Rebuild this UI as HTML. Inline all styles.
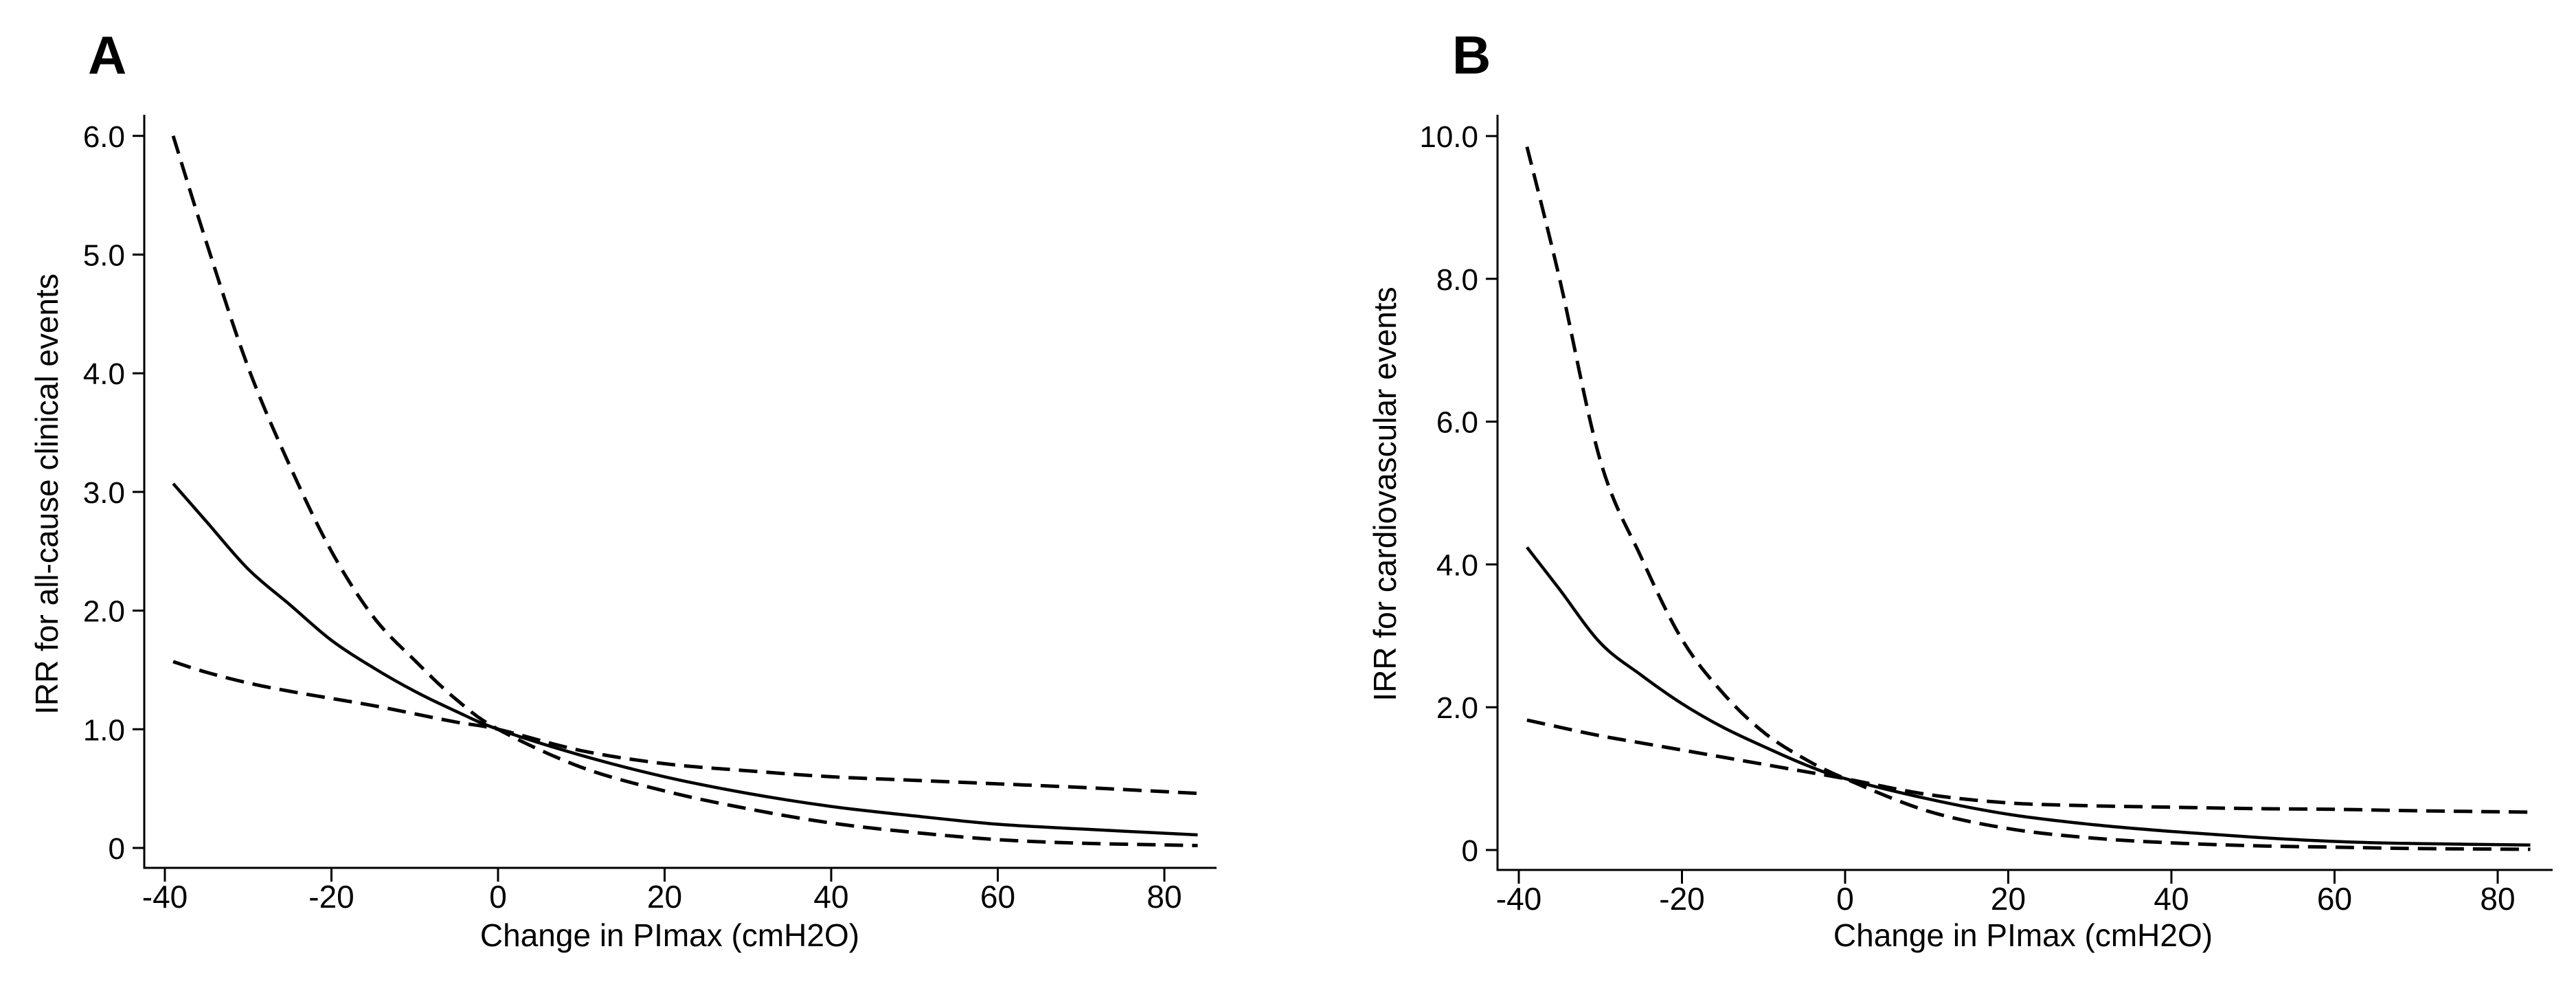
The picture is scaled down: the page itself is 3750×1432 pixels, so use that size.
<!DOCTYPE html>
<html><head><meta charset="utf-8"><style>
html,body{margin:0;padding:0;background:#fff;}
svg{display:block;font-family:"Liberation Sans",Arial,sans-serif;}
</style></head><body>
<svg id="chart" width="3750" height="1432" viewBox="0 0 3750 1432" xmlns="http://www.w3.org/2000/svg">
<rect width="3750" height="1432" fill="#fff"/>
</svg>
<script>
const xValues = [-39,-35,-30,-25,-20,-15,-10,-5,0,10,20,30,40,50,60,70,84];
const xTicks = [-40,-20,0,20,40,60,80];
const xTickLabels = ["-40","-20","0","20","40","60","80"];
const aUpper = [6.0,5.1,4.05,3.22,2.5,1.95,1.58,1.25,1.0,0.68,0.48,0.33,0.21,0.13,0.07,0.04,0.02];
const aEstimate = [3.07,2.75,2.35,2.05,1.75,1.52,1.32,1.15,1.0,0.78,0.6,0.46,0.35,0.27,0.2,0.16,0.11];
const aLower = [1.57,1.48,1.39,1.32,1.26,1.2,1.13,1.06,1.0,0.82,0.71,0.65,0.6,0.57,0.54,0.51,0.46];
const aYTicks = [0,1,2,3,4,5,6];
const aYTickLabels = ["0","1.0","2.0","3.0","4.0","5.0","6.0"];
const bUpper = [9.85,8.0,5.45,4.1,2.95,2.2,1.65,1.28,1.0,0.55,0.3,0.17,0.1,0.06,0.04,0.02,0.01];
const bEstimate = [4.24,3.65,2.9,2.45,2.05,1.72,1.45,1.2,1.0,0.72,0.5,0.36,0.26,0.18,0.12,0.09,0.07];
const bLower = [1.82,1.72,1.6,1.5,1.4,1.3,1.2,1.1,1.0,0.78,0.66,0.62,0.6,0.58,0.57,0.55,0.53];
const bYTicks = [0,2,4,6,8,10];
const bYTickLabels = ["0","2.0","4.0","6.0","8.0","10.0"];

const NS = "http://www.w3.org/2000/svg";
const svg = document.getElementById("chart");
function mk(tag, attrs, parent){
  const e = document.createElementNS(NS, tag);
  for (const k in attrs) e.setAttribute(k, attrs[k]);
  (parent||svg).appendChild(e);
  return e;
}
function smoothPath(pts){
  let d = "M" + pts[0][0].toFixed(1) + "," + pts[0][1].toFixed(1);
  for (let i=0;i<pts.length-1;i++){
    const p0 = pts[Math.max(0,i-1)], p1 = pts[i], p2 = pts[i+1], p3 = pts[Math.min(pts.length-1,i+2)];
    const c1x = p1[0] + (p2[0]-p0[0])/6, c1y = p1[1] + (p2[1]-p0[1])/6;
    const c2x = p2[0] - (p3[0]-p1[0])/6, c2y = p2[1] - (p3[1]-p1[1])/6;
    d += " C" + c1x.toFixed(1)+","+c1y.toFixed(1)+" "+c2x.toFixed(1)+","+c2y.toFixed(1)+" "+p2[0].toFixed(1)+","+p2[1].toFixed(1);
  }
  return d;
}
function panel(cfg){
  const g = mk("g", {});
  
  
  const xs = v => cfg.x0 + (v - (-40)) / 20 * cfg.xStep;
  const ys = v => cfg.y0 - v * cfg.yUnit;
  // panel letter
  const L = mk("text", {x: cfg.letterX, y: 107, "font-size": 78, "font-weight": "bold", fill: "#000"}, g);
  
  
  L.textContent = cfg.letter;
  // axes
  const ya = mk("line", {x1: cfg.axisX, y1: 167, x2: cfg.axisX, y2: cfg.axisY+1.5, stroke: "#000", "stroke-width": 3}, g);
  
  
  const xa = mk("line", {x1: cfg.axisX-1.5, y1: cfg.axisY, x2: cfg.axisEnd, y2: cfg.axisY, stroke: "#000", "stroke-width": 3}, g);
  
  
  xTicks.forEach((t,i)=>{
    const x = xs(t);
    const tk = mk("line", {x1: x, y1: cfg.axisY, x2: x, y2: cfg.axisY+20, stroke: "#000", "stroke-width": 3}, g);
    
    
    const tl = mk("text", {x: x, y: cfg.axisY+58, "font-size": 46, "text-anchor": "middle", fill: "#000"}, g);
    
    
    tl.textContent = xTickLabels[i];
  });
  cfg.yTicks.forEach((t,i)=>{
    const y = ys(t);
    const tk = mk("line", {x1: cfg.axisX-17, y1: y, x2: cfg.axisX, y2: y, stroke: "#000", "stroke-width": 3}, g);
    
    
    const tl = mk("text", {x: cfg.axisX-28, y: y+16, "font-size": 44, "text-anchor": "end", fill: "#000"}, g);
    
    
    tl.textContent = cfg.yTickLabels[i];
  });
  const xt = mk("text", {x: cfg.xTitleX, y: 1377, "font-size": 46, "text-anchor": "middle", fill: "#000"}, g);
  
  
  xt.textContent = "Change in PImax (cmH2O)";
  const yt = mk("text", {x: 0, y: 0, "font-size": 46, "text-anchor": "middle", fill: "#000",
    transform: "translate(" + cfg.yTitleX + ",719) rotate(-90)"}, g);
  
  
  yt.textContent = cfg.yTitle;
  const series = [[cfg.upper,"upper-ci-line",true],[cfg.lower,"lower-ci-line",true],[cfg.est,"irr-estimate-line",false]];
  series.forEach(s=>{
    const pts = xValues.map((xv,i)=>[xs(xv), ys(s[0][i])]);
    const p = mk("path", {d: smoothPath(pts), fill: "none", stroke: "#000", "stroke-width": s[2]?5:4.5,
      "stroke-dasharray": s[2] ? "27 13" : "none"}, g);
    
    
  });
}
panel({name:"panel-a", letter:"A", letterX:128, x0:240, xStep:242.5, y0:1234, yUnit:172.7,
  axisX:210, axisY:1263, axisEnd:1771, yTicks:aYTicks, yTickLabels:aYTickLabels,
  upper:aUpper, est:aEstimate, lower:aLower, xTitleX:975, yTitleX:84,
  yTitle:"IRR for all-cause clinical events"});
panel({name:"panel-b", letter:"B", letterX:2114, x0:2211, xStep:237.5, y0:1237, yUnit:103.9,
  axisX:2180, axisY:1266, axisEnd:3716, yTicks:bYTicks, yTickLabels:bYTickLabels,
  upper:bUpper, est:bEstimate, lower:bLower, xTitleX:2945, yTitleX:2032,
  yTitle:"IRR for cardiovascular events"});
</script>
</body></html>
